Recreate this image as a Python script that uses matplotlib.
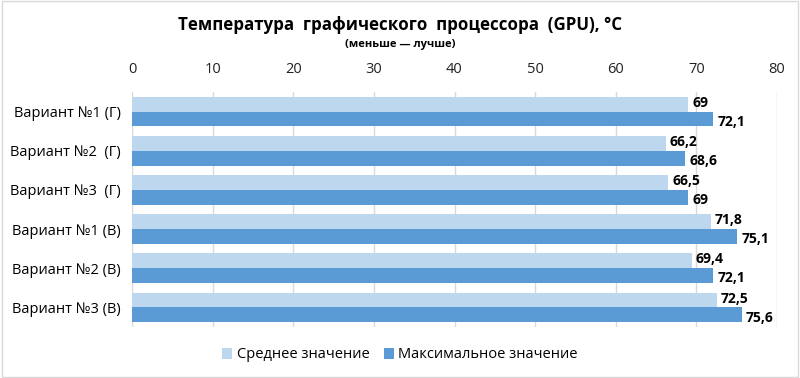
import numpy as np
import matplotlib.pyplot as plt
from matplotlib.patches import Rectangle

plt.rcParams['font.family'] = ['Open Sans', 'DejaVu Sans']

categories = ['Вариант №1 (Г)', 'Вариант №2  (Г)', 'Вариант №3  (Г)',
              'Вариант №1 (В)', 'Вариант №2 (В)', 'Вариант №3 (В)']
avg_vals = [69, 66.2, 66.5, 71.8, 69.4, 72.5]
max_vals = [72.1, 68.6, 69, 75.1, 72.1, 75.6]
series_names = ['Среднее значение', 'Максимальное значение']
ticks = [0, 10, 20, 30, 40, 50, 60, 70, 80]

c_avg = '#BDD7EE'
c_max = '#5B9BD5'

fig = plt.figure(figsize=(8, 3.78), dpi=100)
fig.patches.append(Rectangle((0.002, 0.003), 0.996, 0.994, transform=fig.transFigure,
                             fill=False, edgecolor='#D9D9D9', lw=1))
ax = fig.add_axes([132/800, 1-327/378, 645/800, 235/378])

y = np.arange(len(categories))
h = 0.38
ax.barh(y - h/2, avg_vals, height=h, color=c_avg, label=series_names[0], zorder=2)
ax.barh(y + h/2, max_vals, height=h, color=c_max, label=series_names[1], zorder=2)

fmt = lambda v: ('%g' % v).replace('.', ',')
for i in range(len(categories)):
    ax.annotate(fmt(avg_vals[i]), (avg_vals[i], y[i] - h/2), xytext=(3, 1), textcoords='offset points',
                va='center', ha='left', fontsize=10, fontweight='bold', zorder=3)
    ax.annotate(fmt(max_vals[i]), (max_vals[i], y[i] + h/2), xytext=(3, -2), textcoords='offset points',
                va='center', ha='left', fontsize=10, fontweight='bold', zorder=3)

ax.set_xlim(0, 80)
ax.set_ylim(len(categories) - 0.5, -0.5)
ax.set_xticks(ticks)
ax.xaxis.tick_top()
ax.tick_params(axis='x', length=0, labelsize=10.5, pad=11, colors='#222222')
ax.tick_params(axis='y', length=0, labelsize=10.5, pad=8)
ax.set_yticks(y)
ax.set_yticklabels(categories)
ax.grid(axis='x', color='#D9D9D9', lw=1, zorder=0)
for s in ax.spines.values():
    s.set_visible(False)

fig.text(0.5, 1-25/378, 'Температура  графического  процессора  (GPU), °C', ha='center', va='center',
         fontsize=12.2, fontweight='bold')
fig.text(0.5, 1-45/378, '(меньше — лучше)', ha='center', va='center', fontsize=8, fontweight='bold')

fig.legend(loc='center', bbox_to_anchor=(0.5, 1-355/378), ncol=2, frameon=False, fontsize=10.5,
           handlelength=0.7, handleheight=0.7, handletextpad=0.3, columnspacing=1.0)

fig.savefig('out.png', dpi=100)
